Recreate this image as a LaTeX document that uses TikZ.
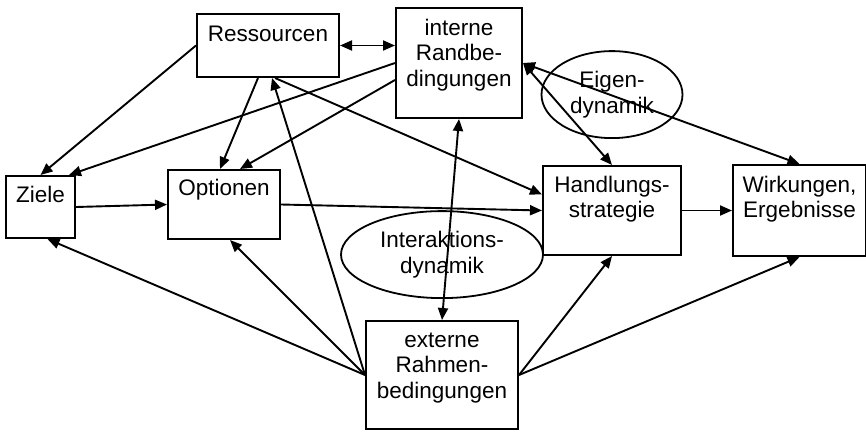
\documentclass[tikz,border=0pt]{standalone}
\usepackage{fontspec}
\setmainfont{Liberation Sans}
\usetikzlibrary{arrows.meta,positioning,shapes.geometric}
\tikzset{
  box/.style={
    draw,
    line width=2pt,
    align=center,
    inner sep=0pt,
    anchor=base,
    font=\fontsize{22.5}{25.5}\selectfont
  },
  dynbox/.style={ellipse, draw, line width=1.8pt, align=center, inner sep=0pt,
    font=\fontsize{22.5}{25.5}\selectfont},
  arrow/.style={-{Triangle[length=12pt,width=10pt]}, line width=1.9pt},
  biarrow/.style={arrow, {Triangle[length=12pt,width=10pt]}-{Triangle[length=12pt,width=10pt]}}
}
\begin{document}
\begin{tikzpicture}[x=1pt,y=-1pt,node distance=50pt]
    \useasboundingbox (0,0) rectangle (866,431);
    \node[box, text width=142pt, text height=27pt, text depth=36pt] (res) at (268,41) {Ressourcen};
    \node[box, text width=126pt, text height=27pt, text depth=83pt] (int) at (459,35) {interne\\Randbe-\\dingungen};
    \node[box, text width=69pt, text height=26pt, text depth=36pt] (zie) at (40.5,202) {Ziele};
    \node[box, text width=112pt, text height=25pt, text depth=44pt] (opt) at (224,195) {Optionen};
    \node[box, text width=138pt, text height=26pt, text depth=63pt] (strat) at (612,192) {Handlungs-\\strategie};
    \node[box, base right=of strat, text width=133pt, text height=27pt, text depth=64pt] (wirk) {Wirkungen,\\Ergebnisse};
    \node[box, text width=152pt, text height=26pt, text depth=82pt] (ext) at (442,347) {externe\\Rahmen-\\bedingungen};
    \node[dynbox, minimum width=141pt, minimum height=87pt, above=26pt of strat] (eig) {Eigen-\\dynamik};
    \node[dynbox, minimum width=202pt, minimum height=87pt, above=21pt of ext] (inter) {Interaktions-\\dynamik};
    % obere Ebene
    \draw[biarrow] (res.east) -- (res.east -| int.west);
    \draw[arrow] (res.west) -- (zie.north);
    \draw[arrow] (int.west) -- ([xshift=-7pt]zie.north east);
    \draw[arrow] ([xshift=-10pt]res.south) -- ([xshift=-4pt]opt.north);
    \draw[arrow] ([yshift=-17pt]int.west) -- ([xshift=16pt]opt.north);
    \draw[arrow] ([xshift=7pt]res.south) -- ([yshift=16pt]strat.west);
    \draw[biarrow] (int.east) -- (strat.north);
    \draw[biarrow] (int.east) -- (wirk.north);
    \draw[biarrow] (int.south) -- (ext.north);
    % mittlere Ebene
    \draw[arrow] (zie.east) -- (opt.west);
    \draw[arrow] (opt.east) -- (strat.west);
    \draw[arrow] (strat.east) -- (wirk.west);
    % untere Ebene
    \draw[arrow] (ext.west) -- ([xshift=7pt]zie.south);
    \draw[arrow] (ext.west) -- ([xshift=6pt]opt.south);
    \draw[arrow] (ext.west) -- ([xshift=4pt]res.south);
    \draw[arrow] (ext.east) -- (strat.south);
    \draw[arrow] (ext.east) -- (wirk.south);
  \end{tikzpicture}
\end{document}
